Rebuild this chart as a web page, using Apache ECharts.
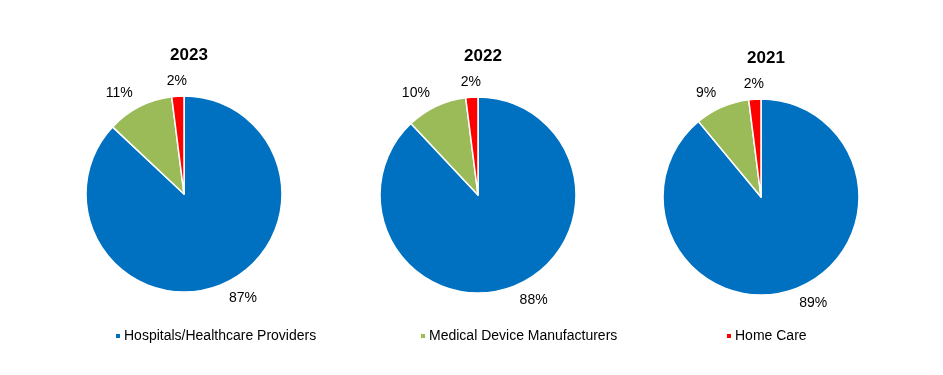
<!DOCTYPE html>
<html>
<head>
    <meta charset="UTF-8">
    <script src="https://cdn.jsdelivr.net/npm/echarts@6/dist/echarts.min.js"></script>
    <style>
        body { margin: 0; background: #fff; }
        #chart { width: 943px; height: 375px; }
    </style>
</head>
<body>
<div id="chart"></div>
<script>
    var years = ['2023', '2022', '2021'];
    var segments = ['Hospitals/Healthcare Providers', 'Medical Device Manufacturers', 'Home Care'];
    var hospitals = [87, 88, 89];
    var devices = [11, 10, 9];
    var homeCare = [2, 2, 2];
    var colors = ['#0070C0', '#9BBB59', '#FF0000'];

    var centers = [[184, 194], [478, 195], [761, 197]];
    var radius = 98;
    var legendLeft = [114, 419, 725];

    var chart = echarts.init(document.getElementById('chart'));

    // direction of the middle of a slice, measured clockwise from 12 o'clock
    function midDir(s, idx) {
        var vals = [hospitals[s], devices[s], homeCare[s]];
        var total = 0, before = 0;
        for (var k = 0; k < vals.length; k++) {
            total += vals[k];
            if (k < idx) before += vals[k];
        }
        var a = (before + vals[idx] / 2) / total * Math.PI * 2;
        return [Math.sin(a), -Math.cos(a)];
    }

    var titles = [], series = [], legends = [];
    for (var i = 0; i < years.length; i++) {
        titles.push({
            text: years[i],
            left: centers[i][0],
            top: centers[i][1] - 152,
            textAlign: 'center',
            textStyle: { fontFamily: 'Liberation Sans', fontSize: 17, fontWeight: 'bold', color: '#000' }
        });
        series.push({
            type: 'pie',
            center: centers[i],
            radius: radius,
            startAngle: 90,
            clockwise: true,
            animation: false,
            data: [
                { name: segments[0], value: hospitals[i] },
                { name: segments[1], value: devices[i] },
                { name: segments[2], value: homeCare[i] }
            ],
            itemStyle: { borderColor: '#fff', borderWidth: 1.5 },
            label: {
                position: 'outside',
                formatter: '{c}%',
                fontFamily: 'Liberation Sans',
                fontSize: 14,
                color: '#000'
            },
            labelLine: { show: false },
            labelLayout: function (p) {
                var d = midDir(p.seriesIndex, p.dataIndex);
                var c = centers[p.seriesIndex];
                var R = radius + 15;
                var align = Math.abs(d[0]) < 0.2 ? 'center' : (d[0] < 0 ? 'right' : 'left');
                return { x: c[0] + R * d[0], y: c[1] + R * d[1], align: align, verticalAlign: 'middle' };
            },
            emphasis: { disabled: true }
        });
        legends.push({
            data: [segments[i]],
            left: legendLeft[i],
            top: 329,
            padding: 0,
            icon: 'rect',
            itemWidth: 6,
            itemHeight: 6,
            textStyle: { fontFamily: 'Liberation Sans', fontSize: 14, color: '#000', padding: [0, 0, 0, -2] }
        });
    }

    chart.setOption({
        color: colors,
        title: titles,
        legend: legends,
        series: series
    });
</script>
</body>
</html>
